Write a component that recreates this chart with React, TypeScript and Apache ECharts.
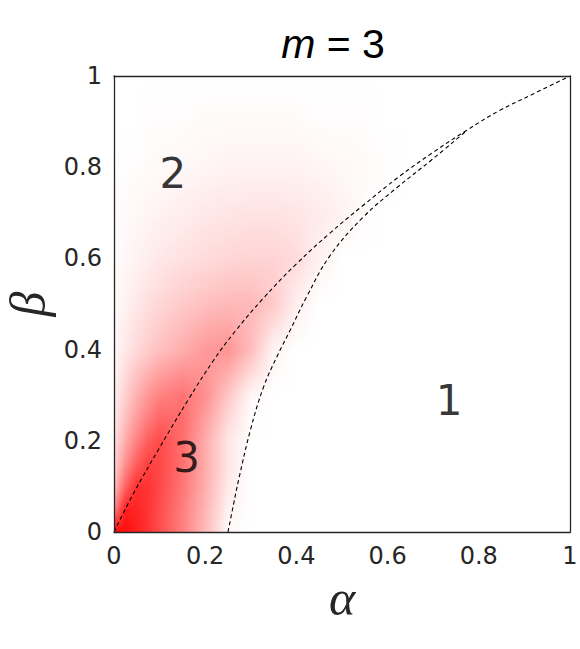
import React, { useEffect, useRef } from "react";
import * as echarts from "echarts";

// Grid nodes of the shaded field
const ALPHA_NODES = [0, 0.025, 0.05, 0.075, 0.1, 0.15, 0.2, 0.25, 0.3, 0.35, 0.4, 0.45, 0.5, 0.55, 0.6, 0.65, 0.7];
const BETA_NODES = [0, 0.05, 0.1, 0.15, 0.2, 0.25, 0.3, 0.4, 0.5, 0.6, 0.7, 0.8, 0.9, 1.0];

// Red intensity (percent) along each beta row, one value per alpha node
const ROW_B000 = [100, 95, 88, 80, 70, 50, 27, 2, 0, 0, 0, 0, 0, 0, 0, 0, 0];
const ROW_B005 = [48, 88, 86, 79, 70, 51, 29, 5, 0, 0, 0, 0, 0, 0, 0, 0, 0];
const ROW_B010 = [25, 62, 82, 80, 72, 54, 32, 8, 0, 0, 0, 0, 0, 0, 0, 0, 0];
const ROW_B015 = [16, 44, 64, 75, 72, 56, 33, 10, 0, 0, 0, 0, 0, 0, 0, 0, 0];
const ROW_B020 = [12, 33, 50, 64, 71, 57, 33, 10, 0, 0, 0, 0, 0, 0, 0, 0, 0];
const ROW_B025 = [8, 25, 39, 51, 60, 58, 38, 15, 1, 0, 0, 0, 0, 0, 0, 0, 0];
const ROW_B030 = [6, 19, 31, 41, 49, 55, 44, 22, 3, 0, 0, 0, 0, 0, 0, 0, 0];
const ROW_B040 = [3, 9, 15, 20, 25, 32, 40, 42, 26, 4, 0, 0, 0, 0, 0, 0, 0];
const ROW_B050 = [2, 5, 9, 13, 16, 21, 25, 28, 28, 21, 6, 0, 0, 0, 0, 0, 0];
const ROW_B060 = [1, 3, 5, 7, 9, 12, 14, 16, 17, 17, 14, 5, 0, 0, 0, 0, 0];
const ROW_B070 = [1, 2, 3, 4, 5, 7, 9, 10, 11, 11, 10, 8, 5, 1, 0, 0, 0];
const ROW_B080 = [0, 1, 1, 2, 2, 3, 4, 5, 5, 5, 5, 4, 3, 2, 1, 0, 0];
const ROW_B090 = [0, 0, 0, 1, 1, 1, 2, 2, 2, 2, 2, 1, 1, 1, 0, 0, 0];
const ROW_B100 = [0, 0, 0, 0, 0, 0, 0, 0, 0, 0, 0, 0, 0, 0, 0, 0, 0];
const INTENSITY = [ROW_B000, ROW_B005, ROW_B010, ROW_B015, ROW_B020, ROW_B025, ROW_B030, ROW_B040, ROW_B050, ROW_B060, ROW_B070, ROW_B080, ROW_B090, ROW_B100];

// Dashed boundary curves (the right one joins the left one near alpha = 0.77)
const CURVE_LEFT_ALPHA = [0, 0.043, 0.1, 0.164, 0.218, 0.264, 0.327, 0.4, 0.473, 0.546, 0.626, 0.699, 0.772, 0.845, 0.918, 1];
const CURVE_LEFT_BETA = [0, 0.085, 0.185, 0.292, 0.376, 0.438, 0.512, 0.588, 0.655, 0.716, 0.78, 0.832, 0.88, 0.924, 0.96, 1];
const CURVE_RIGHT_ALPHA = [0.25, 0.262, 0.273, 0.299, 0.328, 0.357, 0.386, 0.422, 0.473, 0.546, 0.619, 0.699, 0.772];
const CURVE_RIGHT_BETA = [0, 0.06, 0.113, 0.223, 0.318, 0.384, 0.442, 0.515, 0.605, 0.69, 0.754, 0.818, 0.879];

// Region annotations
const ANNOT_LABELS = ["2", "3", "1"];
const ANNOT_ALPHA = [0.129, 0.159, 0.735];
const ANNOT_BETA = [0.787, 0.164, 0.289];

const TITLE = "m = 3";

const SANS = "DejaVu Sans, Liberation Sans, Arial, sans-serif";
const TITLE_SANS = "Liberation Sans, Arial, Helvetica, sans-serif";
const SERIF = "Liberation Serif, Times New Roman, DejaVu Serif, serif";

function red(t: number) {
  const v = Math.round(255 * (1 - Math.max(0, Math.min(100, t)) / 100));
  return `rgb(255,${v},${v})`;
}

export default function App() {
  const ref = useRef<HTMLDivElement>(null);
  useEffect(() => {
    if (!ref.current) return;
    const chart = echarts.init(ref.current, null, { renderer: "svg" });
    const aMax = ALPHA_NODES[ALPHA_NODES.length - 1];
    const frame = { show: true, onZero: false, lineStyle: { color: "#262626", width: 1.3 } };
    const labelFont = { fontFamily: SANS, fontSize: 24, color: "#262626" };
    const titleParts = TITLE.split(" ");
    chart.setOption({
      animation: false,
      backgroundColor: "#ffffff",
      title: {
        text: `{i|${titleParts[0]}} ${titleParts.slice(1).join(" ")}`,
        left: 328,
        textAlign: "center",
        top: 18,
        textStyle: {
          fontFamily: TITLE_SANS,
          fontSize: 41,
          fontWeight: "normal",
          color: "#000",
          rich: { i: { fontStyle: "italic", fontSize: 41, fontFamily: TITLE_SANS, color: "#000" } },
        },
      },
      grid: { left: 114, top: 76, width: 456, height: 456, containLabel: false, outerBoundsMode: "none" },
      xAxis: [
        {
          type: "value", min: 0, max: 1, interval: 0.2, position: "bottom", z: 10,
          axisLine: frame, axisTick: { show: false }, splitLine: { show: false },
          axisLabel: { ...labelFont, margin: 12 },
          name: "α", nameLocation: "middle", nameGap: 40,
          nameTextStyle: { fontFamily: SERIF, fontStyle: "italic", fontSize: 50, color: "#262626" },
        },
        {
          type: "value", min: 0, max: 1, interval: 0.2, position: "top", z: 10,
          axisLine: frame, axisTick: { show: false }, splitLine: { show: false }, axisLabel: { show: false },
        },
      ],
      yAxis: [
        {
          type: "value", min: 0, max: 1, interval: 0.2, position: "left", z: 10,
          axisLine: frame, axisTick: { show: false }, splitLine: { show: false },
          axisLabel: { ...labelFont, margin: 12, padding: [8, 0, 0, 0] },
          name: "β", nameLocation: "middle", nameGap: 60, nameRotate: 90,
          nameTextStyle: { fontFamily: SERIF, fontStyle: "italic", fontSize: 50, color: "#262626" },
        },
        {
          type: "value", min: 0, max: 1, interval: 0.2, position: "right", z: 10,
          axisLine: frame, axisTick: { show: false }, splitLine: { show: false }, axisLabel: { show: false },
        },
      ],
      series: [
        {
          type: "custom",
          coordinateSystem: "cartesian2d",
          xAxisIndex: 0,
          yAxisIndex: 0,
          clip: true,
          z: 1,
          silent: true,
          encode: { x: 0, y: 1 },
          data: BETA_NODES.slice(0, -1).map((b, j) => [0, b, j]),
          renderItem: (params: any, api: any) => {
            const j = api.value(2);
            const b0 = BETA_NODES[j];
            const b1 = BETA_NODES[j + 1];
            const r0 = INTENSITY[j];
            const r1 = INTENSITY[j + 1];
            const pTL = api.coord([0, b1]);
            const pBR = api.coord([aMax, b0]);
            const x = pTL[0];
            const w = pBR[0] - pTL[0];
            const yTop = pTL[1];
            const yBot = pBR[1];
            const K = Math.max(1, Math.ceil((yBot - yTop) / 2));
            const children: any[] = [];
            for (let k = 0; k < K; k++) {
              const f = (k + 0.5) / K;
              const y0 = yBot - ((yBot - yTop) * k) / K;
              const y1 = yBot - ((yBot - yTop) * (k + 1)) / K;
              const stops = ALPHA_NODES.map((a, i) => ({ offset: a / aMax, color: red(r0[i] * (1 - f) + r1[i] * f) }));
              children.push({
                type: "rect",
                shape: { x, y: y1, width: w, height: y0 - y1 + 0.7 },
                style: { fill: { type: "linear", x: 0, y: 0, x2: 1, y2: 0, colorStops: stops, global: false }, stroke: null },
              });
            }
            return { type: "group", children };
          },
        },
        {
          type: "line",
          xAxisIndex: 0, yAxisIndex: 0, z: 5,
          data: CURVE_LEFT_ALPHA.map((a, i) => [a, CURVE_LEFT_BETA[i]]),
          showSymbol: false, symbol: "none", smooth: 0.4, silent: true,
          lineStyle: { color: "#000", width: 1.1, type: [4, 3] },
        },
        {
          type: "line",
          xAxisIndex: 0, yAxisIndex: 0, z: 5,
          data: CURVE_RIGHT_ALPHA.map((a, i) => [a, CURVE_RIGHT_BETA[i]]),
          showSymbol: false, symbol: "none", smooth: 0.4, silent: true,
          lineStyle: { color: "#000", width: 1.1, type: [4, 3] },
        },
        {
          type: "scatter",
          xAxisIndex: 0, yAxisIndex: 0, z: 6,
          symbolSize: 0,
          silent: true,
          data: ANNOT_LABELS.map((l, i) => [ANNOT_ALPHA[i], ANNOT_BETA[i], l]),
          label: {
            show: true,
            position: "inside",
            formatter: (p: any) => p.value[2],
            fontFamily: SANS,
            fontSize: 42,
            color: "#000",
          },
        },
      ],
    });
    return () => chart.dispose();
  }, []);
  return <div ref={ref} style={{ position: "absolute", left: 0, top: 0, width: 580, height: 649 }} />;
}
